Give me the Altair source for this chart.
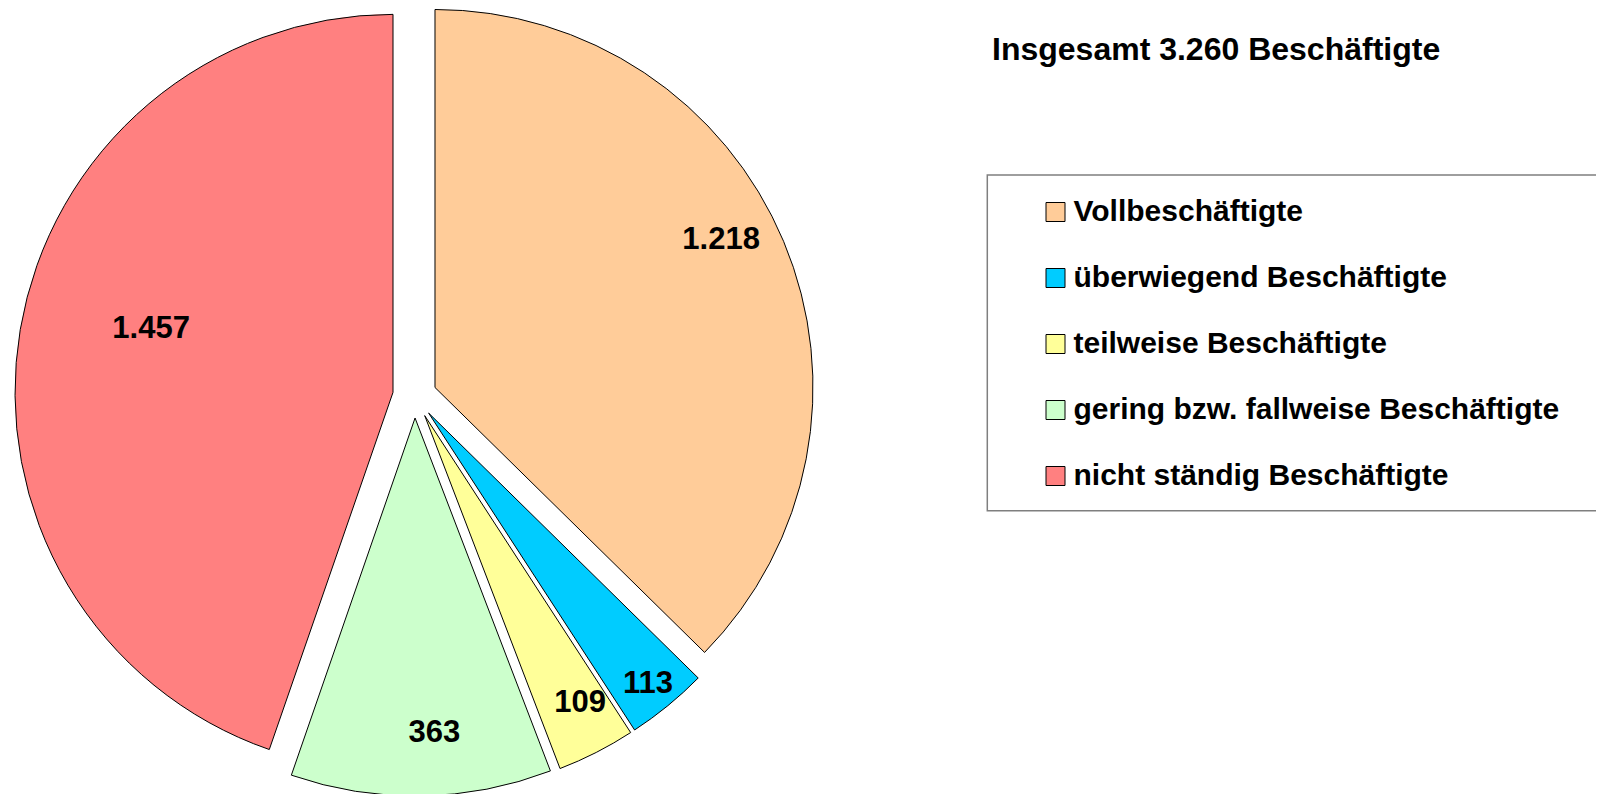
import altair as alt
import pandas as pd

# ---- data ----
categories = [
    "Vollbeschäftigte",
    "überwiegend Beschäftigte",
    "teilweise Beschäftigte",
    "gering bzw. fallweise Beschäftigte",
    "nicht ständig Beschäftigte",
]
values = [1218, 113, 109, 363, 1457]
value_labels = ["1.218", "113", "109", "363", "1.457"]
title_text = "Insgesamt 3.260 Beschäftigte"

# ---- style ----
colors = ["#FFCC99", "#00CCFF", "#FFFF99", "#CCFFCC", "#FF8080"]
FONT = "Liberation Sans"
CX, CY, R, EXPLODE = 406.7, 388.0, 378, 22
label_radius = [344, 371, 349, 338, 272]
label_shift_deg = [-4.3, 0.3, -1.3, -2.4, 4.7]

df = pd.DataFrame({
    "cat": categories,
    "value": values,
    "label": value_labels,
    "order": list(range(len(categories))),
    "lr": label_radius,
    "ls": label_shift_deg,
})

base = (
    alt.Chart(df)
    .transform_window(cum="sum(value)", sort=[alt.SortField("order")], frame=[None, 0])
    .transform_joinaggregate(total="sum(value)")
    .transform_calculate(a0="2*PI*(datum.cum-datum.value)/datum.total")
    .transform_calculate(a1="2*PI*datum.cum/datum.total")
    .transform_calculate(mid="(datum.a0+datum.a1)/2")
    .transform_calculate(px=f"{CX}+{EXPLODE}*sin(datum.mid)")
    .transform_calculate(py=f"{CY}-{EXPLODE}*cos(datum.mid)")
    .transform_calculate(la="datum.mid+datum.ls*PI/180")
    .transform_calculate(lx=f"{CX}+datum.lr*sin(datum.la)")
    .transform_calculate(ly=f"{CY}-datum.lr*cos(datum.la)")
)

arcs = base.mark_arc(radius=R, stroke="black", strokeWidth=1).encode(
    theta=alt.Theta("a0:Q", scale=None, stack=None),
    theta2="a1:Q",
    x=alt.X("px:Q", scale=None),
    y=alt.Y("py:Q", scale=None),
    color=alt.Color(
        "cat:N",
        scale=alt.Scale(domain=categories, range=colors),
        legend=alt.Legend(
            title=None,
            orient="none",
            legendX=1032.5,
            legendY=189,
            symbolType="square",
            symbolSize=361,
            symbolStrokeColor="black",
            symbolStrokeWidth=1,
            labelFont=FONT,
            labelFontSize=30,
            labelFontWeight="bold",
            labelColor="black",
            labelOffset=3,
            labelLimit=1000,
            rowPadding=36,
            padding=0,
        ),
    ),
)

texts = base.mark_text(
    font=FONT, fontSize=31, fontWeight="bold", color="black"
).encode(
    x=alt.X("lx:Q", scale=None),
    y=alt.Y("ly:Q", scale=None),
    text="label:N",
)

title = alt.Chart(pd.DataFrame({"t": [title_text]})).mark_text(
    font=FONT, fontSize=32, fontWeight="bold", color="black",
    align="left", baseline="alphabetic",
).encode(x=alt.value(984), y=alt.value(52), text="t:N")

frame = alt.Chart(pd.DataFrame({"t": [0]})).mark_rect(
    fill="white", fillOpacity=0, stroke="#7f7f7f", strokeWidth=1.5
).encode(
    x=alt.value(979.3), x2=alt.value(1700), y=alt.value(167), y2=alt.value(502.7)
)

chart = (
    alt.layer(frame, arcs, texts, title)
    .properties(width=1588, height=786, padding=0, autosize="none")
    .configure_view(stroke=None)
)

chart.save("out.html", embed_options={"renderer": "svg", "actions": False})
